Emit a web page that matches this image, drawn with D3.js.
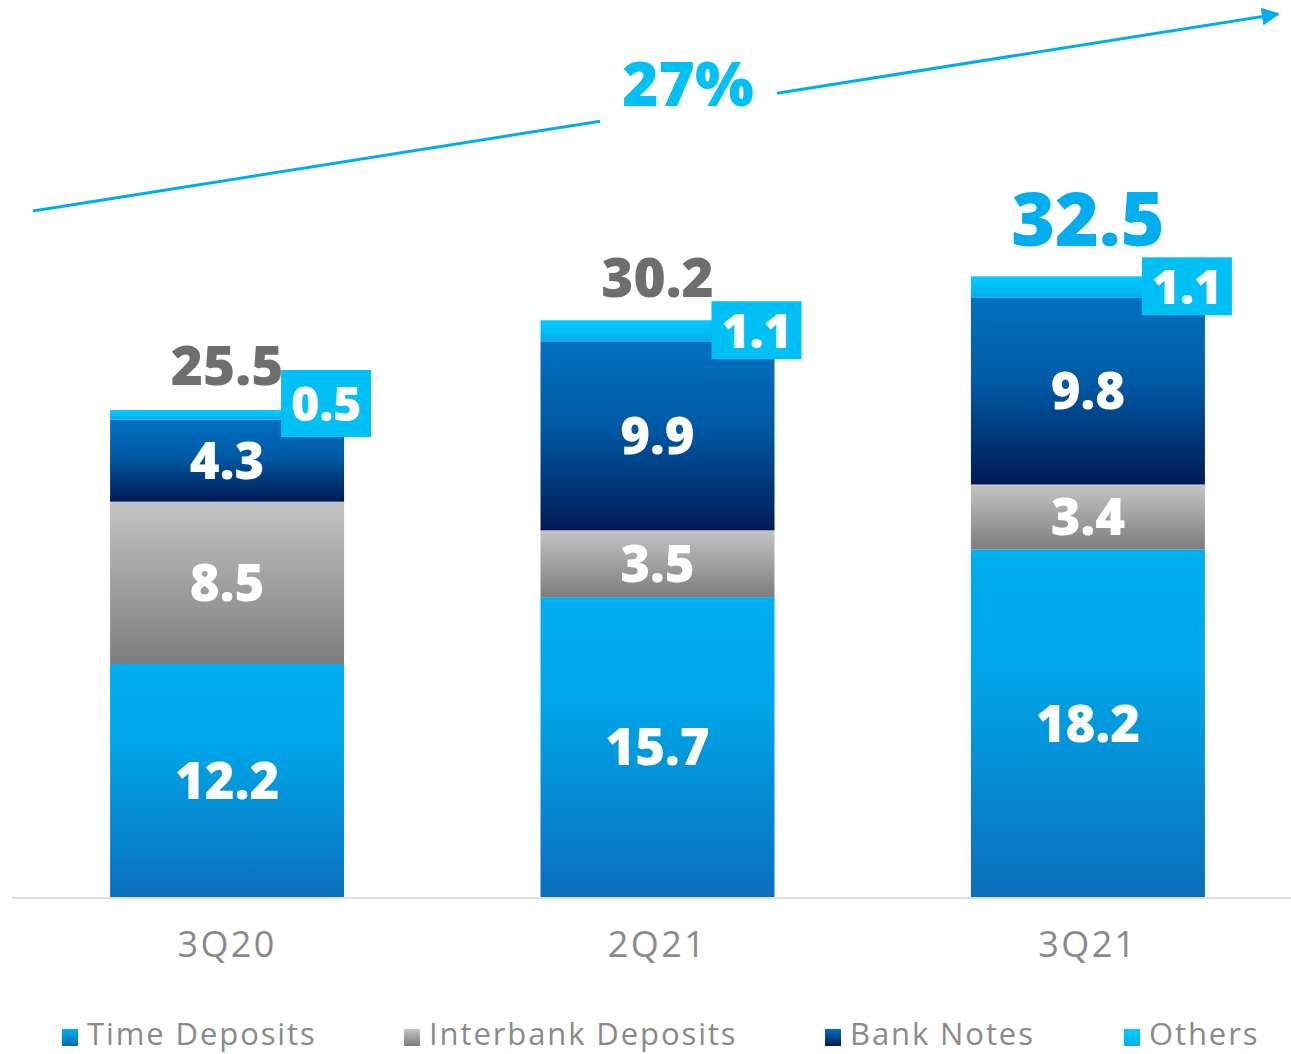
<!DOCTYPE html>
<html>
<head>
<meta charset="utf-8">
<script src="https://cdn.jsdelivr.net/npm/d3@7"></script>
<style>
  html, body { margin: 0; padding: 0; background: #fff; }
  svg { display: block; }
</style>
</head>
<body>
<svg id="chart" width="1291" height="1054"></svg>
<script>
// Funding mix by quarter (R$ bn)
const categories = ["3Q20", "2Q21", "3Q21"];
const seriesNames = ["Time Deposits", "Interbank Deposits", "Bank Notes", "Others"];
const timeDeposits = [12.2, 15.7, 18.2];
const interbankDeposits = [8.5, 3.5, 3.4];
const bankNotes = [4.3, 9.9, 9.8];
const others = [0.5, 1.1, 1.1];
const totals = [25.5, 30.2, 32.5];
const growthLabel = "27%";

const W = 1291, H = 1054;
const svg = d3.select("#chart");
const boldFont = "'Open Sans', 'DejaVu Sans', sans-serif";

const rows = categories.map((c, i) => ({
  cat: c,
  "Time Deposits": timeDeposits[i],
  "Interbank Deposits": interbankDeposits[i],
  "Bank Notes": bankNotes[i],
  "Others": others[i]
}));
const stacked = d3.stack().keys(seriesNames)(rows);

const x = d3.scaleBand().domain(categories).range([24, 1291]).paddingInner(0.4564).paddingOuter(0.2);
const y = d3.scaleLinear().domain([0, 25.5]).range([897, 410]);

// vertical gradients for each series
const gradStops = {
  "Time Deposits": [["0%", "#00AEEF"], ["35%", "#00A6E8"], ["100%", "#0A6EBE"]],
  "Interbank Deposits": [["0%", "#C4C4C4"], ["100%", "#7D7D7D"]],
  "Bank Notes": [["0%", "#0072C1"], ["45%", "#005AA5"], ["100%", "#001A55"]],
  "Others": [["0%", "#00CCFF"], ["100%", "#00AEEF"]]
};
const legendGradStops = {
  "Time Deposits": [["0%", "#00AEEF"], ["100%", "#0068B8"]],
  "Interbank Deposits": [["0%", "#C4C4C4"], ["100%", "#7D7D7D"]],
  "Bank Notes": [["0%", "#0072C1"], ["100%", "#001A55"]],
  "Others": [["0%", "#00CCFF"], ["100%", "#00B0F0"]]
};
const defs = svg.append("defs");
function addGrad(id, stops) {
  const g = defs.append("linearGradient").attr("id", id)
    .attr("x1", 0).attr("y1", 0).attr("x2", 0).attr("y2", 1);
  stops.forEach(s => g.append("stop").attr("offset", s[0]).attr("stop-color", s[1]));
}
seriesNames.forEach((k, i) => {
  addGrad("g" + i, gradStops[k]);
  addGrad("lg" + i, legendGradStops[k]);
});

// baseline
svg.append("line")
  .attr("x1", 12).attr("x2", 1291)
  .attr("y1", y(0) + 1).attr("y2", y(0) + 1)
  .attr("stroke", "#DEDEDE").attr("stroke-width", 2);

// stacked bars
stacked.forEach((s, si) => {
  svg.append("g").selectAll("rect").data(s).join("rect")
    .attr("x", d => x(d.data.cat))
    .attr("width", x.bandwidth())
    .attr("y", d => y(d[1]))
    .attr("height", d => y(d[0]) - y(d[1]))
    .attr("fill", `url(#g${si})`);
});

// segment value labels (first three series, inside bars)
stacked.slice(0, 3).forEach(s => {
  svg.append("g").selectAll("text").data(s).join("text")
    .attr("x", d => x(d.data.cat) + x.bandwidth() / 2)
    .attr("y", d => (y(d[0]) + y(d[1])) / 2)
    .attr("dy", "0.36em")
    .attr("text-anchor", "middle")
    .attr("font-family", boldFont)
    .attr("font-weight", 800)
    .attr("font-size", 51)
    .attr("fill", "#fff")
    .text(d => (d[1] - d[0]).toFixed(1));
});

// "Others" callout boxes at the upper right of each bar
const boxW = 90;
const boxGeom = [{ top: -40, h: 67 }, { top: -19, h: 58 }, { top: -19, h: 58 }];
const boxes = svg.append("g").selectAll("g").data(stacked[3]).join("g");
boxes.append("rect")
  .attr("x", d => x(d.data.cat) + x.bandwidth() - 63)
  .attr("y", (d, i) => y(d[1]) + boxGeom[i].top)
  .attr("width", boxW)
  .attr("height", (d, i) => boxGeom[i].h)
  .attr("fill", "#00C0F6");
boxes.append("text")
  .attr("x", d => x(d.data.cat) + x.bandwidth() - 63 + boxW / 2)
  .attr("y", (d, i) => y(d[1]) + boxGeom[i].top + boxGeom[i].h / 2)
  .attr("dy", "0.36em")
  .attr("text-anchor", "middle")
  .attr("font-family", boldFont)
  .attr("font-weight", 800)
  .attr("font-size", 48)
  .attr("fill", "#fff")
  .text(d => (d[1] - d[0]).toFixed(1));

// totals above bars
const totalStyle = [
  { size: 55, color: "#6E6E6E", off: 25 },
  { size: 55, color: "#6E6E6E", off: 23 },
  { size: 75, color: "#00AEEF", off: 30 }
];
svg.append("g").selectAll("text").data(totals).join("text")
  .attr("x", (d, i) => x(categories[i]) + x.bandwidth() / 2)
  .attr("y", (d, i) => y(d) - totalStyle[i].off)
  .attr("text-anchor", "middle")
  .attr("font-family", boldFont)
  .attr("font-weight", 800)
  .attr("font-size", (d, i) => totalStyle[i].size)
  .attr("fill", (d, i) => totalStyle[i].color)
  .text(d => d.toFixed(1));

// category axis
const xAxis = svg.append("g")
  .attr("transform", `translate(0,${y(0)})`)
  .call(d3.axisBottom(x).tickSize(0).tickPadding(34));
xAxis.select(".domain").remove();
xAxis.selectAll("text")
  .attr("font-family", "'Open Sans', sans-serif")
  .attr("font-weight", 400)
  .attr("font-size", 36)
  .attr("letter-spacing", 2.4)
  .attr("fill", "#8A8A8A");

// growth arrow with gap for label
const arrowColor = "#00AEEF";
defs.append("marker").attr("id", "arrowHead")
  .attr("viewBox", "0 0 10 10").attr("refX", 9).attr("refY", 5)
  .attr("markerWidth", 6).attr("markerHeight", 6).attr("orient", "auto")
  .attr("markerUnits", "strokeWidth")
  .append("path").attr("d", "M0,0L10,5L0,10Z").attr("fill", arrowColor);
const ax0 = 33, ay0 = 211, ax1 = 1278, ay1 = 14;
const lineY = xx => ay0 + (ay1 - ay0) * (xx - ax0) / (ax1 - ax0);
svg.append("line")
  .attr("x1", ax0).attr("y1", ay0).attr("x2", 600).attr("y2", lineY(600))
  .attr("stroke", arrowColor).attr("stroke-width", 3);
svg.append("line")
  .attr("x1", 777).attr("y1", lineY(777)).attr("x2", ax1).attr("y2", ay1)
  .attr("stroke", arrowColor).attr("stroke-width", 3)
  .attr("marker-end", "url(#arrowHead)");
svg.append("text")
  .attr("x", 688).attr("y", 106)
  .attr("text-anchor", "middle")
  .attr("font-family", boldFont)
  .attr("font-weight", 800)
  .attr("font-size", 62)
  .attr("fill", "#00C0F6")
  .text(growthLabel);

// legend
const legendX = [62, 404, 825, 1124];
const legend = svg.append("g").selectAll("g").data(seriesNames).join("g")
  .attr("transform", (d, i) => `translate(${legendX[i]},1029)`);
legend.append("rect")
  .attr("width", 16).attr("height", 17)
  .attr("fill", (d, i) => `url(#lg${i})`);
legend.append("text")
  .attr("x", 25).attr("y", 16)
  .attr("font-family", "'Open Sans', sans-serif")
  .attr("font-size", 31)
  .attr("letter-spacing", 1.9)
  .attr("fill", "#8A8A8A")
  .text(d => d);
</script>
</body>
</html>
